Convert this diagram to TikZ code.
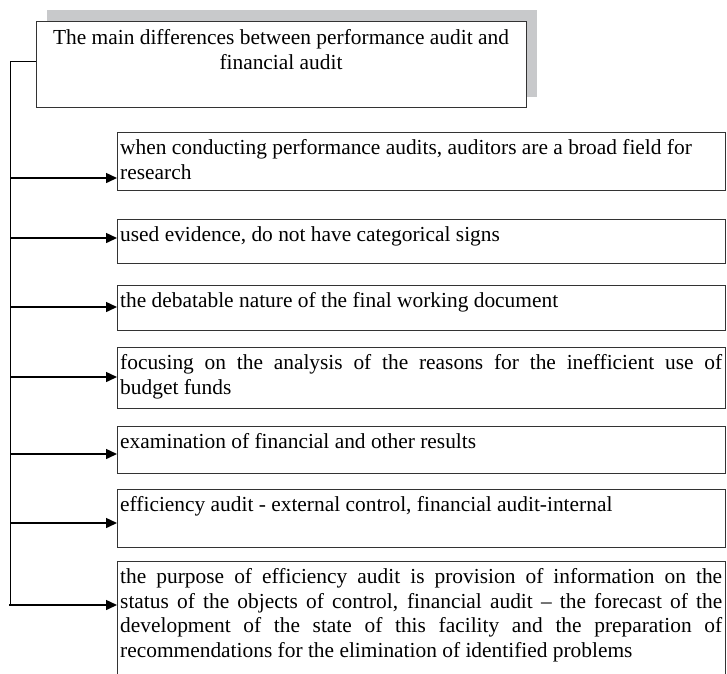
\documentclass[tikz,border=0pt]{standalone}
\usepackage{fontspec}
\setmainfont{Liberation Serif}
\usetikzlibrary{arrows.meta}
\definecolor{shade}{HTML}{C8C9CB}
\definecolor{edge}{HTML}{333333}
\begin{document}
\begin{tikzpicture}[x=1pt,y=-1pt,
  box/.style={draw=edge, line width=1pt, rectangle, anchor=north west, minimum width=608pt, inner sep=0pt},
  txt/.style={anchor=north west, inner sep=0pt, text width=602pt, font=\fontsize{21.4}{24.6}\selectfont},
  arr/.style={line width=1.5pt, -{Triangle[length=11pt,width=10pt]}},
  link/.style={line width=1pt}]
\useasboundingbox (0,0) rectangle (727,673);
\clip (0,0) rectangle (727,673);
% title with shadow
\node[fill=shade, anchor=north west, minimum width=490pt, minimum height=87pt, inner sep=0pt] (shadow) at (47,10) {};
\node[draw=edge, line width=1pt, fill=white, anchor=north west, minimum width=490pt, minimum height=86pt, inner sep=0pt] (title) at (36,21) {};
\node[anchor=north, inner sep=0pt, align=flush center, font=\fontsize{21.4}{24.6}\selectfont] (titletext) at (281,27) {\strut The main differences between performance audit and\\ financial audit};
% boxes
\node[box, minimum height=58pt] (b1) at (117,132) {};
\node[txt, align=flush left] (x1) at (120,137) {\strut when conducting performance audits, auditors are a broad field for\\ research};
\node[box, minimum height=44pt] (b2) at (117,219) {};
\node[txt, align=flush left] (x2) at (120,224) {\strut used evidence, do not have categorical signs};
\node[box, minimum height=45pt] (b3) at (117,285) {};
\node[txt, align=flush left] (x3) at (120,290) {\strut the debatable nature of the final working document};
\node[box, minimum height=61pt] (b4) at (117,347) {};
\node[txt, align=justify] (x4) at (120,352) {\strut focusing on the analysis of the reasons for the inefficient use of\linebreak budget funds};
\node[box, minimum height=47pt] (b5) at (117,426) {};
\node[txt, align=flush left] (x5) at (120,431) {\strut examination of financial and other results};
\node[box, minimum height=58pt] (b6) at (117,489) {};
\node[txt, align=flush left] (x6) at (120,494) {\strut efficiency audit - external control, financial audit-internal};
\node[box, minimum height=140pt] (b7) at (117,561) {};
\node[txt, align=justify] (x7) at (120,566) {\strut the purpose of efficiency audit is provision of information on the\linebreak status of the objects of control, financial audit -- the forecast of the\linebreak development of the state of this facility and the preparation of\linebreak recommendations for the elimination of identified problems};
% trunk
\coordinate (t0) at (10,61);
\coordinate (t1) at (10,605);
\draw[link] (t0) -- (t0 -| title.west);
\draw[link] (t0) -- (t1);
% arrows
\coordinate (s1) at (10,178);
\coordinate (s2) at (10,238);
\coordinate (s3) at (10,307);
\coordinate (s4) at (10,377);
\coordinate (s5) at (10,454);
\coordinate (s6) at (10,523);
\coordinate (s7) at (9,605);
\draw[arr] (s1) -- (s1 -| b1.west);
\draw[arr] (s2) -- (s2 -| b2.west);
\draw[arr] (s3) -- (s3 -| b3.west);
\draw[arr] (s4) -- (s4 -| b4.west);
\draw[arr] (s5) -- (s5 -| b5.west);
\draw[arr] (s6) -- (s6 -| b6.west);
\draw[arr] (s7) -- (s7 -| b7.west);
\end{tikzpicture}
\end{document}
